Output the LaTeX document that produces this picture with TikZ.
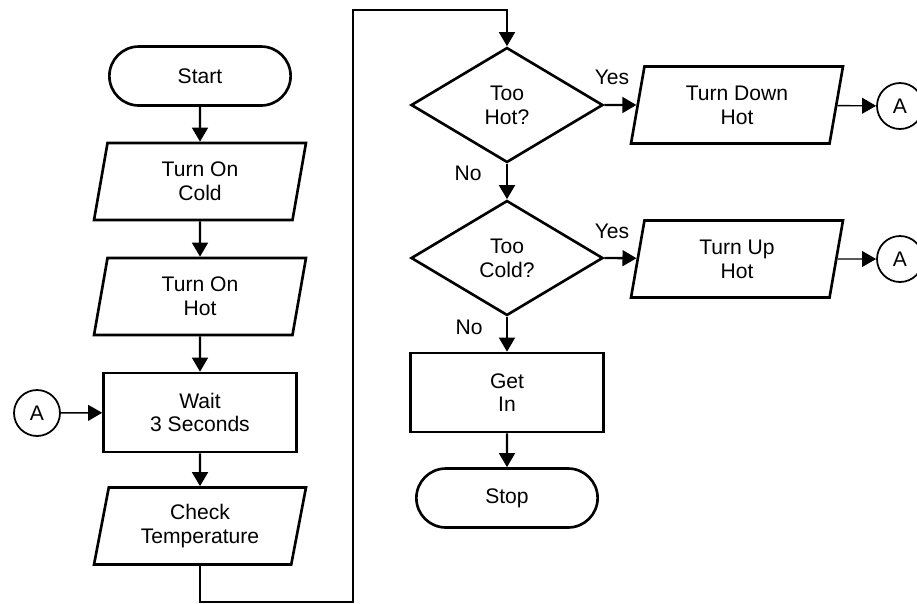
\documentclass[tikz,border=0pt]{standalone}
\usepackage{fontspec}
\setmainfont{Liberation Sans}
\usetikzlibrary{arrows.meta}
\usetikzlibrary{positioning}
\usetikzlibrary{shapes}

\begin{document}
\begin{tikzpicture}[x=0.02cm,y=-0.02cm,
    font=\fontsize{12}{13.5}\selectfont,
    every node/.style={align=center},
    terminal/.style={draw,rounded rectangle,line width=1.5pt,minimum width=3.86cm,minimum height=1.18cm},
    process/.style={draw,rectangle,line width=1.5pt,minimum width=3.86cm,minimum height=1.58cm},
    inout/.style={draw,trapezium,trapezium left angle=75,trapezium right angle=105,
      trapezium stretches body,line width=1.5pt,minimum width=4.24cm,minimum height=1.54cm},
    decision/.style={draw,diamond,aspect=1.67,inner sep=0pt,line width=1.5pt,minimum width=3.84cm,minimum height=2.3cm},
    onpage/.style={draw,circle,line width=1pt,minimum size=0.92cm,inner sep=0pt},
    flow/.style={line width=1.3pt,-{Triangle[length=8pt,width=9pt]}},
    thinflow/.style={line width=0.8pt,-{Triangle[length=8pt,width=9pt]}}]
  \useasboundingbox (0,0) rectangle (917,603);

  % left column
  \node[terminal] (start) at (200,76) {Start};
  \node[inout] (cold) at (200,181.5) {Turn On\\Cold};
  \node[inout] (hot) at (200,296.5) {Turn On\\Hot};
  \node[process] (wait) at (200,412.5) {Wait\\3 Seconds};
  \node[inout] (check) at (200,526) {Check\\Temperature};
  \node[onpage] (inA) at (37,413) {A};

  % right column
  \node[decision] (toohot) at (507,105) {Too\\Hot?};
  \node[inout] (down) at (737,105) {Turn Down\\Hot};
  \node[onpage] (outA1) at (900,106) {A};
  \node[decision] (toocold) at (507,258) {Too\\Cold?};
  \node[inout] (up) at (737,259) {Turn Up\\Hot};
  \node[onpage] (outA2) at (900,259) {A};
  \node[process] (getin) at (507,392.5) {Get\\In};
  \node[terminal] (stop) at (507,498) {Stop};

  \node (yes1) at (612,77) {Yes};
  \node (no1) at (468,173) {No};
  \node (yes2) at (612,231) {Yes};
  \node (no2) at (469,327) {No};

  \coordinate (loopbl) at (353,602);
  \coordinate (looptl) at (353,10);

  \draw[flow] (start) -- (cold);
  \draw[flow] (cold) -- (hot);
  \draw[flow] (hot) -- (wait);
  \draw[flow] (wait) -- (check);
  \draw[thinflow] (inA) -- (wait);
  \draw[flow] (check.south) |- (loopbl) -- (looptl) -| (toohot.north);
  \draw[flow] (toohot.east) -- (down);
  \draw[flow] (toohot.south) -- (toocold.north);
  \draw[flow] (toocold.east) -- (up);
  \draw[flow] (toocold.south) -- (getin);
  \draw[flow] (getin) -- (stop);
  \draw[thinflow] (down) -- (outA1);
  \draw[thinflow] (up) -- (outA2);
\end{tikzpicture}
\end{document}
